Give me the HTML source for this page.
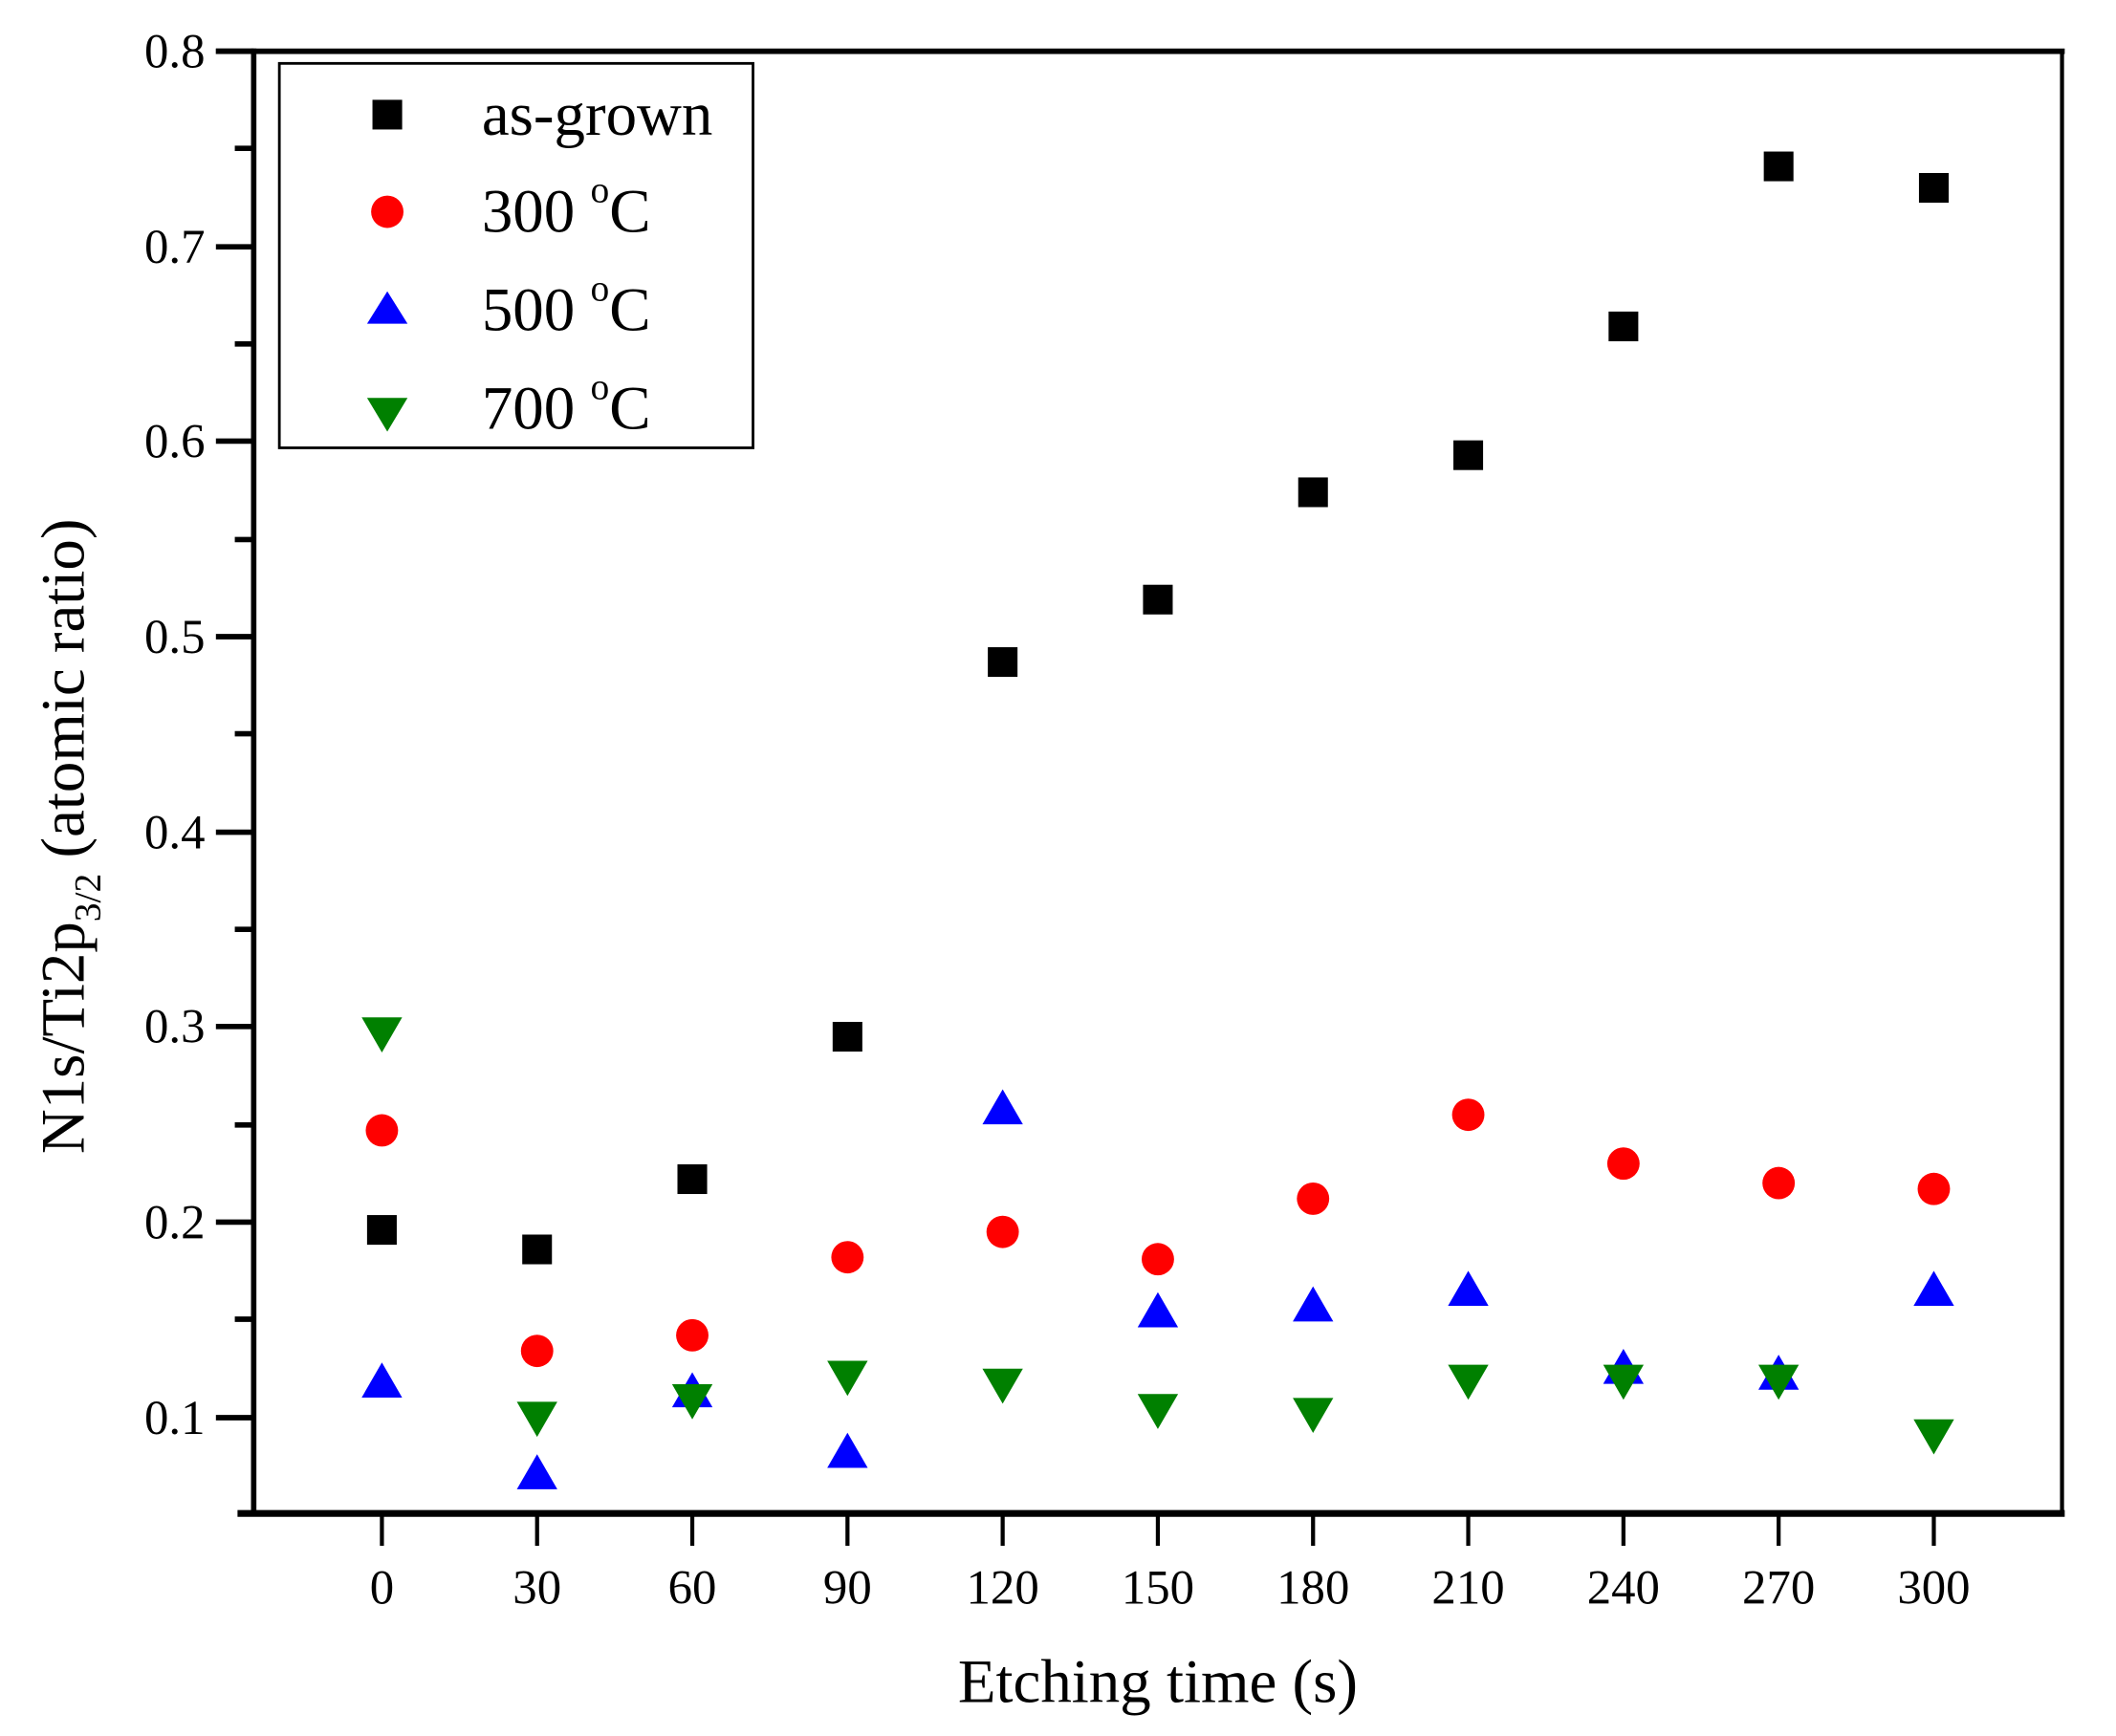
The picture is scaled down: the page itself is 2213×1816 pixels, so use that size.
<!DOCTYPE html>
<html><head><meta charset="utf-8"><style>
html,body{margin:0;padding:0;background:#fff;}
svg{display:block;}
text{font-family:"Liberation Serif",serif;fill:#000;}
</style></head><body>
<svg width="2213" height="1816" viewBox="0 0 1568 1287" preserveAspectRatio="none" xmlns="http://www.w3.org/2000/svg">
<rect width="1568" height="1287" fill="#fff"/>
<line x1="160" y1="38" x2="1530" y2="38" stroke="#000" stroke-width="4"/>
<line x1="1528" y1="38" x2="1528" y2="1124" stroke="#000" stroke-width="3"/>
<line x1="188" y1="36" x2="188" y2="1124" stroke="#000" stroke-width="4"/>
<line x1="176" y1="1122" x2="1530" y2="1122" stroke="#000" stroke-width="5"/>
<g stroke="#000" stroke-width="4">
<line x1="160" y1="38" x2="188" y2="38"/>
<line x1="160" y1="183" x2="188" y2="183"/>
<line x1="160" y1="327" x2="188" y2="327"/>
<line x1="160" y1="472" x2="188" y2="472"/>
<line x1="160" y1="617" x2="188" y2="617"/>
<line x1="160" y1="761" x2="188" y2="761"/>
<line x1="160" y1="906" x2="188" y2="906"/>
<line x1="160" y1="1051" x2="188" y2="1051"/>
<line x1="174" y1="110" x2="188" y2="110"/>
<line x1="174" y1="255" x2="188" y2="255"/>
<line x1="174" y1="400" x2="188" y2="400"/>
<line x1="174" y1="544" x2="188" y2="544"/>
<line x1="174" y1="689" x2="188" y2="689"/>
<line x1="174" y1="834" x2="188" y2="834"/>
<line x1="174" y1="978" x2="188" y2="978"/>
</g>
<g font-size="36" text-anchor="end">
<text x="152" y="50">0.8</text>
<text x="152" y="195">0.7</text>
<text x="152" y="339">0.6</text>
<text x="152" y="484">0.5</text>
<text x="152" y="629">0.4</text>
<text x="152" y="773">0.3</text>
<text x="152" y="918">0.2</text>
<text x="152" y="1063">0.1</text>
</g>
<g stroke="#000" stroke-width="3">
<line x1="283" y1="1122" x2="283" y2="1146"/>
<line x1="398" y1="1122" x2="398" y2="1146"/>
<line x1="513" y1="1122" x2="513" y2="1146"/>
<line x1="628" y1="1122" x2="628" y2="1146"/>
<line x1="743" y1="1122" x2="743" y2="1146"/>
<line x1="858" y1="1122" x2="858" y2="1146"/>
<line x1="973" y1="1122" x2="973" y2="1146"/>
<line x1="1088" y1="1122" x2="1088" y2="1146"/>
<line x1="1203" y1="1122" x2="1203" y2="1146"/>
<line x1="1318" y1="1122" x2="1318" y2="1146"/>
<line x1="1433" y1="1122" x2="1433" y2="1146"/>
</g>
<g font-size="36" text-anchor="middle">
<text x="283" y="1189">0</text><text x="398" y="1189">30</text><text x="513" y="1189">60</text>
<text x="628" y="1189">90</text><text x="743" y="1189">120</text><text x="858" y="1189">150</text>
<text x="973" y="1189">180</text><text x="1088" y="1189">210</text><text x="1203" y="1189">240</text>
<text x="1318" y="1189">270</text><text x="1433" y="1189">300</text>
</g>
<text x="858" y="1262" font-size="46" text-anchor="middle">Etching time (s)</text>
<text transform="translate(62,620) rotate(-90)" font-size="46" text-anchor="middle">N1s/Ti2p<tspan font-size="28" dy="12">3/2</tspan><tspan dy="-12"> (atomic ratio)</tspan></text>
<rect x="207" y="47" width="351" height="285" fill="none" stroke="#000" stroke-width="2"/>
<rect x="276" y="74" width="22" height="22" fill="#000"/>
<circle cx="287" cy="157" r="12" fill="#f00"/>
<polygon points="287,216 272,240 302,240" fill="#00f"/>
<polygon points="272,295 302,295 287,320" fill="#008000"/>
<g font-size="46">
<text x="357" y="100">as-grown</text>
<text x="357" y="172">300 <tspan font-size="28" dy="-22">o</tspan><tspan dy="22">C</tspan></text>
<text x="357" y="245">500 <tspan font-size="28" dy="-22">o</tspan><tspan dy="22">C</tspan></text>
<text x="357" y="318">700 <tspan font-size="28" dy="-22">o</tspan><tspan dy="22">C</tspan></text>
</g>
<g id="d"></g>
</svg>
<script>
(function(){
var xs=[283,398,513,628,743,858,973,1088,1203,1318,1433];
function Y(v){return 38+(0.8-v)*1446.7;}
var ag=[0.196,0.186,0.222,0.295,0.487,0.519,0.574,0.593,0.659,0.741,0.730];
var c3=[0.247,0.134,0.142,0.182,0.195,0.181,0.212,0.255,0.230,0.220,0.217];
var c5=[0.117,0.070,0.112,0.081,0.257,0.153,0.156,0.164,0.124,0.121,0.164];
var c7=[0.298,0.101,0.110,0.122,0.118,0.105,0.103,0.120,0.120,0.120,0.092];
var s='';
for(var i=0;i<11;i++){var x=xs[i],y=Y(ag[i]);s+='<rect x="'+(x-11)+'" y="'+(y-11)+'" width="22" height="22" fill="#000"/>';}
for(var i=0;i<11;i++){var x=xs[i],y=Y(c3[i]);s+='<circle cx="'+x+'" cy="'+y+'" r="12" fill="#f00"/>';}
for(var i=0;i<11;i++){var x=xs[i],y=Y(c5[i]);s+='<polygon points="'+x+','+(y-16)+' '+(x-15)+','+(y+10)+' '+(x+15)+','+(y+10)+'" fill="#00f"/>';}
for(var i=0;i<11;i++){var x=xs[i],y=Y(c7[i]);s+='<polygon points="'+(x-15)+','+(y-10)+' '+(x+15)+','+(y-10)+' '+x+','+(y+16)+'" fill="#008000"/>';}
document.getElementById('d').innerHTML=s;
})();
</script>
</body></html>
